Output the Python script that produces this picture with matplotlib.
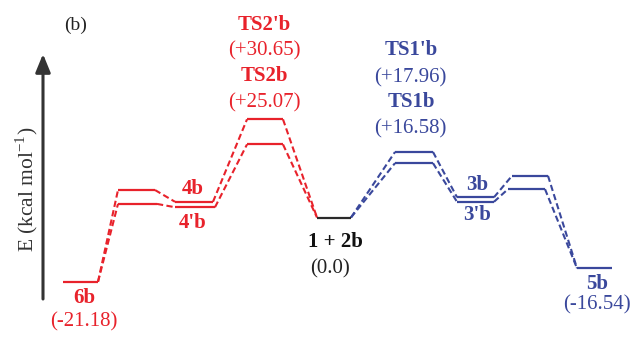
import matplotlib
matplotlib.use("Agg")
import matplotlib.pyplot as plt

plt.rcParams["font.family"] = ["Liberation Serif", "DejaVu Serif"]
plt.rcParams["mathtext.fontset"] = "custom"
plt.rcParams["mathtext.rm"] = "Liberation Serif"

RED = "#e8222b"
BLUE = "#3a489c"
BLACK = "#2a2a2a"

# levels: name, drawn energy (kcal/mol), x start, x end, colour key
names = ["6b", "I_up", "I_lo", "4b", "4'b", "TS2'b", "TS2b", "1+2b",
         "TS1'b", "TS1b", "3b", "3'b", "J_up", "J_lo", "5b"]
energy = [-21.3, 9.1, 4.5, 5.2, 3.4, 32.5, 24.2, 0.0,
          21.7, 18.0, 6.7, 5.2, 13.8, 9.4, -16.8]
x_start = [63, 118, 118, 175, 175, 247, 247, 317,
           395, 395, 457, 457, 512, 508, 577]
x_end = [98, 155, 157, 213, 215, 283, 283, 351,
         433, 433, 494, 494, 548, 545, 612]
colour = ["r", "r", "r", "r", "r", "r", "r", "k",
          "b", "b", "b", "b", "b", "b", "b"]

# dashed connections (from right end of first to left end of second)
links = [("6b", "I_up"), ("6b", "I_lo"), ("I_up", "4b"), ("I_lo", "4'b"),
         ("4b", "TS2'b"), ("4'b", "TS2b"),
         ("1+2b", "TS1'b"), ("1+2b", "TS1b"), ("TS1'b", "3b"), ("TS1b", "3'b"),
         ("3b", "J_up"), ("3'b", "J_lo"), ("J_up", "5b"), ("J_lo", "5b")]
# TS2 levels join 1 + 2b from their right end
back_links = [("TS2'b", "1+2b"), ("TS2b", "1+2b")]

# energy labels as printed
label_values = {"6b": "(-21.18)", "TS2'b": "(+30.65)", "TS2b": "(+25.07)",
                "1+2b": "(0.0)", "TS1'b": "(+17.96)", "TS1b": "(+16.58)",
                "5b": "(-16.54)"}

W, H = 634, 337
Y0, S = 217.5, 3.02          # pixel row of E = 0, pixels per kcal/mol


def p2e(y):
    return (Y0 - y) / S


fig = plt.figure(figsize=(W / 100, H / 100), dpi=100)
ax = fig.add_axes([0, 0, 1, 1])
ax.set_xlim(0, W)
ax.set_ylim(p2e(H), p2e(0))
ax.axis("off")

idx = {n: i for i, n in enumerate(names)}
col = {"r": RED, "b": BLUE, "k": BLACK}

for i in range(len(names)):
    ax.plot([x_start[i], x_end[i]], [energy[i], energy[i]], color=col[colour[i]],
            lw=1.6, solid_capstyle="butt", zorder=3)

for a, b in links:
    i, j = idx[a], idx[b]
    c = RED if "r" in (colour[i], colour[j]) else BLUE
    ax.plot([x_end[i], x_start[j]], [energy[i], energy[j]], color=c,
            lw=1.5, ls=(0, (3.0, 1.6)), zorder=2)
for a, b in back_links:
    i, j = idx[a], idx[b]
    ax.plot([x_end[i], x_start[j]], [energy[i], energy[j]], color=RED,
            lw=1.5, ls=(0, (3.0, 1.6)), zorder=2)

# energy axis arrow
ax.annotate("", xy=(43, p2e(54)), xytext=(43, p2e(299)),
            arrowprops=dict(arrowstyle="-|>,head_length=1.1,head_width=0.45",
                            color="#333333", lw=2.2, shrinkA=0, shrinkB=0))
ax.text(27, p2e(189), "E (kcal mol$^{-1}$)", rotation=90, ha="center", va="center",
        fontsize=15.5, color="#333333")
ax.text(76, p2e(25), "(b)", ha="center", va="center", fontsize=14, color="#222222")

FS = 15
bold = dict(fontsize=FS, fontweight="bold", ha="center", va="center")
norm = dict(fontsize=FS, ha="center", va="center")

# red labels
ax.text(264, p2e(25), "TS2'b", color=RED, **bold)
ax.text(264, p2e(51), label_values["TS2'b"], color=RED, **norm)
ax.text(264, p2e(76), "TS2b", color=RED, **bold)
ax.text(264, p2e(103), label_values["TS2b"], color=RED, **norm)
ax.text(193, p2e(189), "4b", color=RED, **bold)
ax.text(193, p2e(223), "4'b", color=RED, **bold)
ax.text(84, p2e(298), "6b", color=RED, **bold)
ax.text(84, p2e(322), label_values["6b"], color=RED, **norm)

# black labels
ax.text(335, p2e(242), "1 + 2b", color="#111111", **bold)
ax.text(330, p2e(269), label_values["1+2b"], color="#222222", **norm)

# blue labels
ax.text(411, p2e(50), "TS1'b", color=BLUE, **bold)
ax.text(410, p2e(78), label_values["TS1'b"], color=BLUE, **norm)
ax.text(411, p2e(102), "TS1b", color=BLUE, **bold)
ax.text(410, p2e(129), label_values["TS1b"], color=BLUE, **norm)
ax.text(477, p2e(185), "3b", color=BLUE, **bold)
ax.text(477, p2e(215), "3'b", color=BLUE, **bold)
ax.text(597, p2e(284), "5b", color=BLUE, **bold)
ax.text(597, p2e(305), label_values["5b"], color=BLUE, **norm)

fig.savefig("out.png", dpi=100, facecolor="white")
